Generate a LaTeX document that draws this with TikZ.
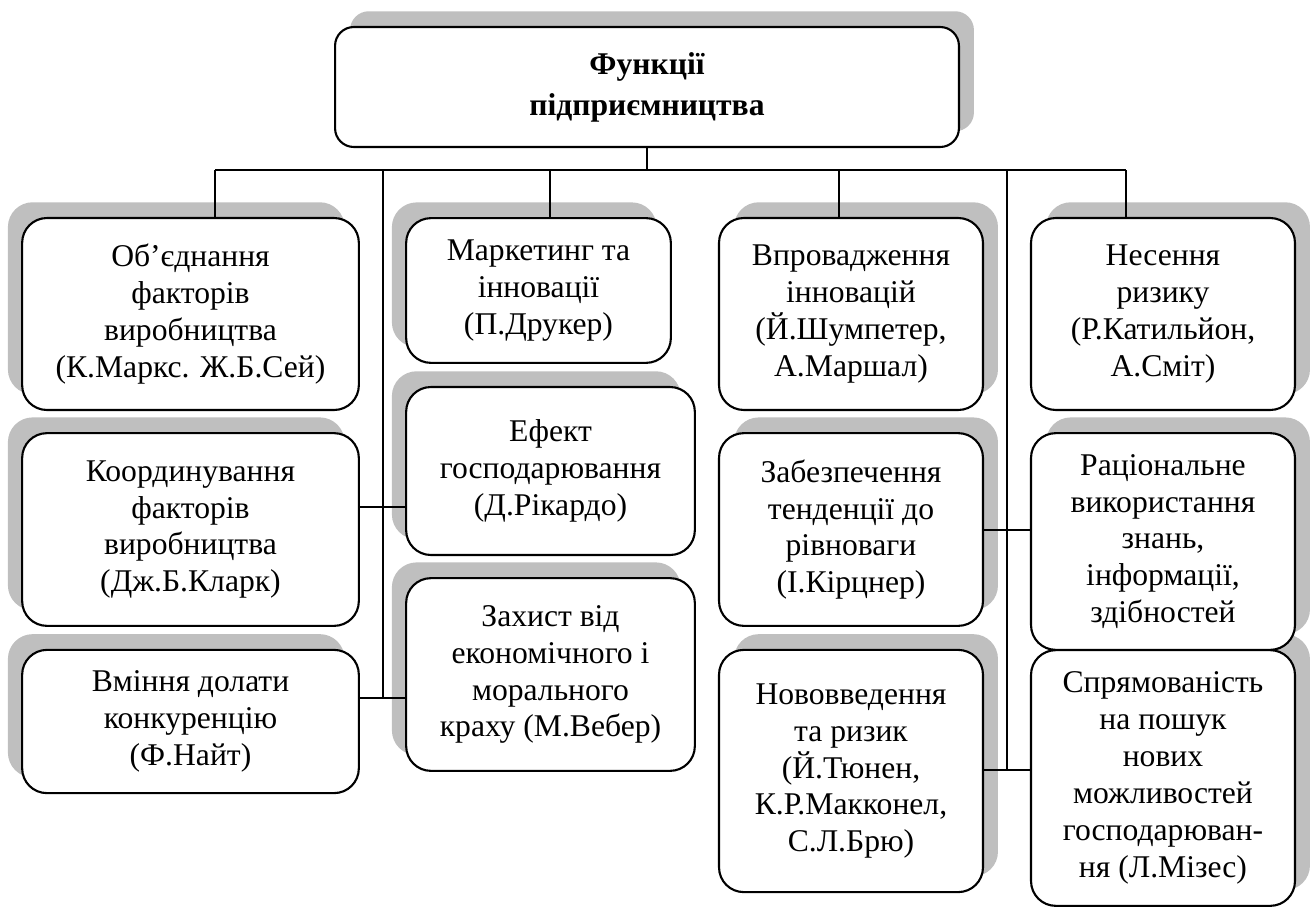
\documentclass[tikz,border=0pt]{standalone}
\usepackage{fontspec}
\setmainfont{Liberation Serif}
\usetikzlibrary{shapes,shadows}

\begin{document}
\begin{tikzpicture}[x=0.013333cm,y=-0.013333cm]
\tikzstyle{every node}=[draw,line width=0.8pt,rounded corners=0.33cm,fill=white,align=center,inner sep=2pt,font=\fontsize{12}{14}\selectfont]
\tikzstyle{lbox}=[drop shadow={shadow xshift=-0.19cm,shadow yshift=0.21cm,fill=black!25,opacity=1}]
\tikzstyle{rbox}=[drop shadow={shadow xshift=0.2cm,shadow yshift=0.21cm,fill=black!25,opacity=1}]
\tikzstyle{link}=[line width=0.6pt]

\useasboundingbox (0,0) rectangle (1316,911);

\draw (647,87) node[rbox,minimum width=8.32cm,minimum height=1.6cm,rounded corners=0.25cm,font={\fontsize{12}{15.5}\selectfont\bfseries}] (title) {Функції\\підприємництва};

% left column
\draw (190.5,721.5) node[lbox,minimum width=4.49cm,minimum height=1.91cm] (vmin) {Вміння долати\\конкуренцію\\(Ф.Найт)};
\draw (190.5,529.5) node[lbox,minimum width=4.49cm,minimum height=2.57cm] (koord) {Координування\\факторів\\виробництва\\(Дж.Б.Кларк)};
\draw (190.5,314) node[lbox,minimum width=4.49cm,minimum height=2.56cm] (obyed) {Об’єднання\\факторів\\виробництва\\(К.Маркс. Ж.Б.Сей)};

\draw (550.5,674.5) node[lbox,minimum width=3.85cm,minimum height=2.57cm] (zakh) {Захист від\\економічного і\\морального\\краху (М.Вебер)};
\draw (550.5,471) node[lbox,minimum width=3.85cm,minimum height=2.24cm] (efekt) {Ефект\\господарювання\\(Д.Рікардо)};
\draw (538.5,290.5) node[lbox,minimum width=3.53cm,minimum height=1.93cm] (market) {Маркетинг та\\інновації\\(П.Друкер)};

% right column
\draw (851,771) node[rbox,minimum width=3.52cm,minimum height=3.23cm] (novov) {Нововведення\\та ризик\\(Й.Тюнен,\\К.Р.Макконел,\\С.Л.Брю)};
\draw (851,529.5) node[rbox,minimum width=3.52cm,minimum height=2.57cm] (zabez) {Забезпечення\\тенденції до\\рівноваги\\(І.Кірцнер)};
\draw (851,314) node[rbox,minimum width=3.52cm,minimum height=2.56cm] (vprov) {Впровадження\\інновацій\\(Й.Шумпетер,\\А.Маршал)};

\draw (1163,778) node[rbox,minimum width=3.52cm,minimum height=3.41cm] (spryam) {Спрямованість\\на пошук\\нових\\можливостей\\господарюван-\\ня (Л.Мізес)};
\draw (1163,541.5) node[rbox,minimum width=3.52cm,minimum height=2.89cm] (ratsio) {Раціональне\\використання\\знань,\\інформації,\\здібностей};
\draw (1163,314) node[rbox,minimum width=3.52cm,minimum height=2.56cm] (nesen) {Несення\\ризику\\(Р.Катильйон,\\А.Сміт)};

\coordinate (bus) at (647,170);
\coordinate (d1) at (215,170);
\coordinate (d2) at (383,170);
\coordinate (d3) at (550,170);
\coordinate (d4) at (839,170);
\coordinate (d5) at (1007,170);
\coordinate (d6) at (1126,170);
\coordinate (lk) at (383,507);
\coordinate (lv) at (383,698);
\coordinate (rz) at (1007,530);
\coordinate (rn) at (1007,770);

\draw[link] (title.south) -- (bus);
\draw[link] (d1) -- (d6);
\draw[link] (d1) -- (d1 |- obyed.north);
\draw[link] (d3) -- (d3 |- market.north);
\draw[link] (d4) -- (d4 |- vprov.north);
\draw[link] (d6) -- (d6 |- nesen.north);

\draw[link] (d2) -- (lv);
\draw[link] (koord.east |- lk) -- (efekt.west |- lk);
\draw[link] (vmin.east |- lv) -- (zakh.west |- lv);

\draw[link] (d5) -- (rn);
\draw[link] (zabez.east |- rz) -- (ratsio.west |- rz);
\draw[link] (novov.east |- rn) -- (spryam.west |- rn);

\end{tikzpicture}
\end{document}
